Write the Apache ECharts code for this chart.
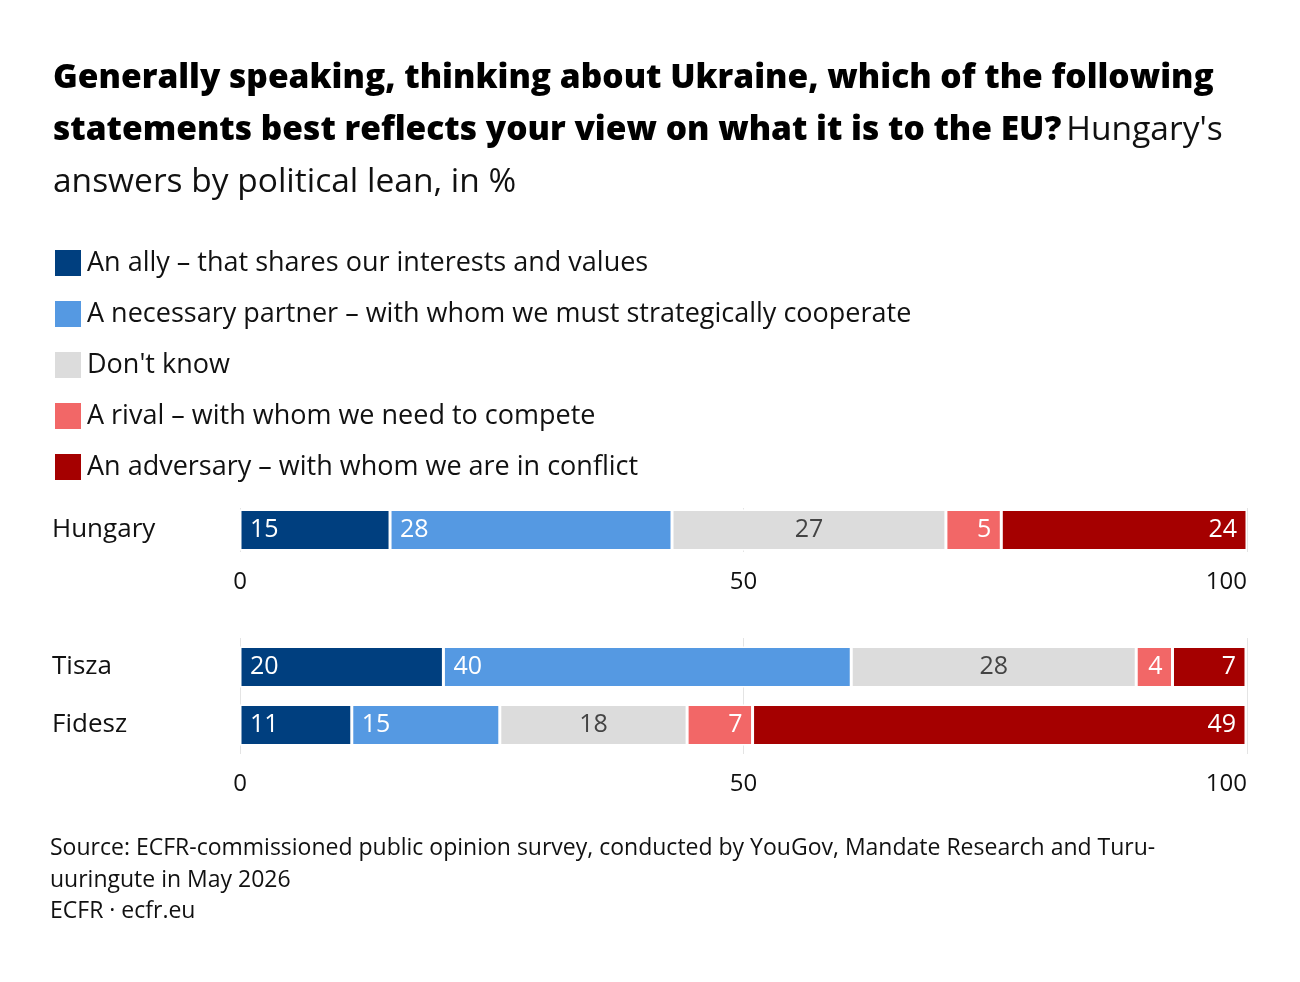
<!DOCTYPE html>
<html><head><meta charset="utf-8">
<script src="https://cdn.jsdelivr.net/npm/echarts@6/dist/echarts.min.js"></script>
<style>html,body{margin:0;background:#fff}#c{width:1300px;height:982px}</style>
</head><body><div id="c"></div>
<script>
const seriesNames = ["An ally – that shares our interests and values","A necessary partner – with whom we must strategically cooperate","Don't know","A rival – with whom we need to compete","An adversary – with whom we are in conflict"];
const colors = ["#003f7f","#5599e2","#dcdcdc","#f26767","#a50000"];
const cats1 = ["Hungary"];
const cats2 = ["Fidesz","Tisza"];
const hungary = [14.9,28.0,27.2,5.5,24.4];
const tisza = [20.2,40.5,28.3,3.6,7.3];
const fidesz = [11.1,14.7,18.6,6.5,49.0];
const shown = {Hungary:[15,28,27,5,24],Tisza:[20,40,28,4,7],Fidesz:[11,15,18,7,49]};
const ticks = [0,50,100];
const F = "'Open Sans', sans-serif";
const pos = ['insideLeft','insideLeft','inside','insideRight','insideRight'];
const series = [];
seriesNames.forEach((n,i)=>{
  const mk=(xi,data)=>({
    name:n,type:'bar',stack:'s'+xi,xAxisIndex:xi,yAxisIndex:xi,data:data,barWidth:41,
    itemStyle:{color:colors[i],borderColor:'#fff',borderWidth:1.5},
    label:{show:true,position:pos[i],distance:10,fontFamily:F,fontSize:25,color:i==2?'#444':'#fff',
      formatter:p=>shown[p.name][i]}
  });
  series.push(mk(0,[hungary[i]]));
  series.push(mk(1,[fidesz[i],tisza[i]]));
});
const xa = (gi)=>({gridIndex:gi,type:'value',min:0,max:100,interval:50,
  axisLine:{show:false},axisTick:{show:false},
  splitLine:{show:true,lineStyle:{color:'#e4e4e4',width:1}},
  axisLabel:{fontFamily:F,fontSize:24,color:'#111',margin:18,alignMaxLabel:'right',
    formatter:v=>ticks.includes(v)?String(v):''}});
const ya = (gi,c)=>({gridIndex:gi,type:'category',data:c,axisLine:{show:false},axisTick:{show:false},
  axisLabel:{fontFamily:F,fontSize:26,color:'#111',align:'left',margin:188}});
echarts.init(document.getElementById('c')).setOption({
  backgroundColor:'#fff',animation:false,color:colors,
  title:{left:48,top:47,text:"{b|Generally speaking, thinking about Ukraine, which of the following}\n{b|statements best reflects your view on what it is to the EU?} {n|Hungary's}\n{n|answers by political lean, in %}",
    textStyle:{rich:{b:{fontFamily:F,fontWeight:800,fontSize:33.5,color:'#000',lineHeight:52},n:{fontFamily:F,fontWeight:'normal',fontSize:33.5,color:'#111',lineHeight:52}}}},
  legend:{orient:'vertical',left:48,top:243,icon:'rect',itemWidth:28,itemHeight:28,itemGap:21,
    textStyle:{fontFamily:F,fontSize:27,color:'#111'},data:seriesNames,selectedMode:false},
  grid:[{left:240,right:53,top:508,height:44},{left:240,right:53,top:638,height:116}],
  xAxis:[xa(0),xa(1)],yAxis:[ya(0,cats1),ya(1,cats2)],
  series:series,
  graphic:[{type:'text',left:50,top:832,style:{text:"Source: ECFR-commissioned public opinion survey, conducted by YouGov, Mandate Research and Turu-\nuuringute in May 2026",font:"23px "+F,fill:'#111',lineHeight:32}},
    {type:'text',left:50,top:900,style:{text:"ECFR · ecfr.eu",font:"23px "+F,fill:'#111'}}]
});
</script></body></html>
